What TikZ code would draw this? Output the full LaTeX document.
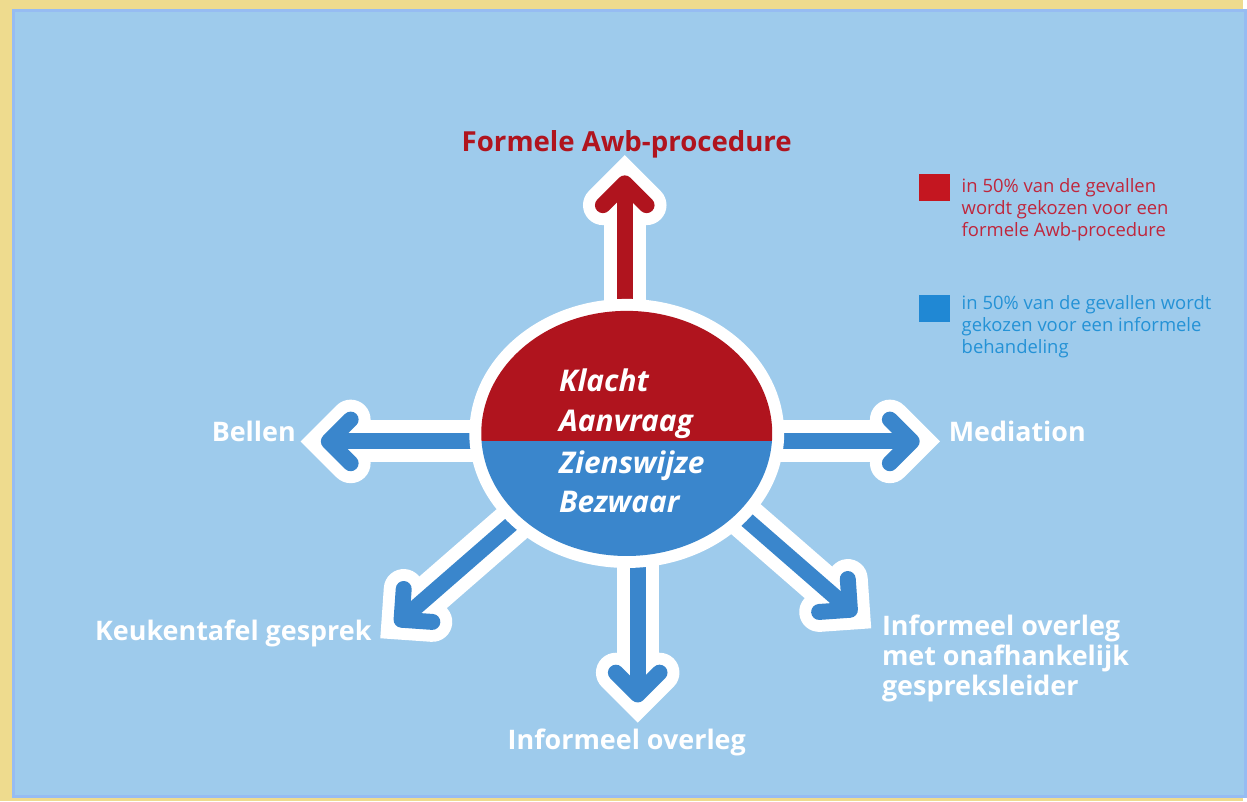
\documentclass[tikz,border=0pt]{standalone}
\usepackage{fontspec}
\setmainfont{Open Sans}
\usetikzlibrary{calc,shapes.geometric}

\definecolor{frameyellow}{RGB}{238,219,142}
\definecolor{bgblue}{RGB}{158,203,236}
\definecolor{bgedge}{RGB}{150,188,242}
\definecolor{awbred}{RGB}{176,20,30}
\definecolor{inforblue}{RGB}{58,134,204}
\definecolor{legendred}{RGB}{192,38,60}
\definecolor{legendblue}{RGB}{36,146,214}
\definecolor{squarered}{RGB}{196,22,32}
\definecolor{squareblue}{RGB}{32,136,212}

\begin{document}
\begin{tikzpicture}[
  x=1pt, y=1pt,
  shaft_white/.style={draw=white, line width=42pt},
  head_white/.style={draw=white, line width=40pt, line cap=round, line join=miter},
  shaft_red/.style={draw=awbred, line width=16pt},
  head_red/.style={draw=awbred, line width=16pt, line cap=round, line join=round},
  shaft_blue/.style={draw=inforblue, line width=16pt},
  head_blue/.style={draw=inforblue, line width=16pt, line cap=round, line join=round},
  core_ring/.style={ellipse, fill=white, minimum width=316pt, minimum height=270pt, inner sep=0pt},
  core_text/.style={text=white, font=\fontsize{30}{34}\selectfont\bfseries\itshape, inner sep=0pt, anchor=base west},
  label/.style={text=white, font=\fontsize{27}{30}\selectfont\bfseries, inner sep=0pt},
  legend_box/.style={rectangle, minimum width=31pt, minimum height=27pt, inner sep=0pt},
  legend_text/.style={font=\fontsize{18.5}{22}\selectfont, align=left, anchor=base west, inner sep=0pt}
  ]

\fill[frameyellow] (0,0) rectangle (1247,804);
\draw[bgedge, fill=bgblue, line width=3pt] (13.5,4.5) rectangle (1250,793.5);

\coordinate (mid) at (629,369);
\coordinate (fromAwb) at (627,369);
\coordinate (tipAwb) at (627,620);
\coordinate (fromBellen) at (629,361);
\coordinate (tipBellen) at (330,361);
\coordinate (fromMediation) at (629,361);
\coordinate (tipMediation) at (915,361);
\coordinate (fromOverleg) at (640,369);
\coordinate (tipOverleg) at (640,107);
\coordinate (fromKeuken) at (535,297);
\coordinate (tipKeuken) at (403,182);
\coordinate (fromOnafh) at (721,307);
\coordinate (tipOnafh) at (853,192);

\foreach \src/\tip/\a in {fromAwb/tipAwb/270, fromBellen/tipBellen/0, fromMediation/tipMediation/180,
  fromOverleg/tipOverleg/90, fromKeuken/tipKeuken/41, fromOnafh/tipOnafh/139} {
  \draw[shaft_white] (\src) -- (\tip);
  \draw[head_white] ($(\tip)+(\a+45:31)$) -- (\tip) -- ($(\tip)+(\a-45:31)$);
}

\draw[shaft_red] (fromAwb) -- (tipAwb);
\draw[head_red] ($(tipAwb)+(315:31)$) -- (tipAwb) -- ($(tipAwb)+(225:31)$);
\foreach \src/\tip/\a in {fromBellen/tipBellen/0, fromMediation/tipMediation/180,
  fromOverleg/tipOverleg/90, fromKeuken/tipKeuken/41, fromOnafh/tipOnafh/139} {
  \draw[shaft_blue] (\src) -- (\tip);
  \draw[head_blue] ($(\tip)+(\a+45:31)$) -- (\tip) -- ($(\tip)+(\a-45:31)$);
}

\node[core_ring] (core) at (mid) {};
\begin{scope}
  \clip (core.center) ellipse [x radius=146, y radius=123];
  \fill[awbred] (470,361) rectangle (790,500);
  \fill[inforblue] (470,361) rectangle (790,240);
\end{scope}

\node[core_text] (klacht) at (561,411) {Klacht};
\node[core_text] (aanvraag) at (561,371) {Aanvraag};
\node[core_text] (zienswijze) at (561,329) {Zienswijze};
\node[core_text] (bezwaar) at (561,290) {Bezwaar};

\node[label, anchor=base, text=awbred, font=\fontsize{27.7}{32}\selectfont\bfseries] (awb) at (629,652) {Formele Awb-procedure};
\node[label, anchor=base east] (bellen) at (297,361) {Bellen};
\node[label, anchor=base west] (mediation) at (952,361) {Mediation};
\node[label, anchor=base] (overleg) at (629,52) {Informeel overleg};
\node[label, anchor=base east] (keuken) at (373,161) {Keukentafel gesprek};
\node[label, anchor=base west, align=left] (onafh) at (885,106)
  {Informeel overleg\\met onafhankelijk\\gespreksleider};

\node[legend_box, fill=squarered, anchor=south west] (boxred) at (922,602) {};
\node[legend_text, text=legendred] (legred) at (965,567)
  {in 50\% van de gevallen\\wordt gekozen voor een\\formele Awb-procedure};
\node[legend_box, fill=squareblue, anchor=south west] (boxblue) at (922,481) {};
\node[legend_text, text=legendblue] (legblue) at (965,449)
  {in 50\% van de gevallen wordt\\gekozen voor een informele\\behandeling};

\end{tikzpicture}
\end{document}
